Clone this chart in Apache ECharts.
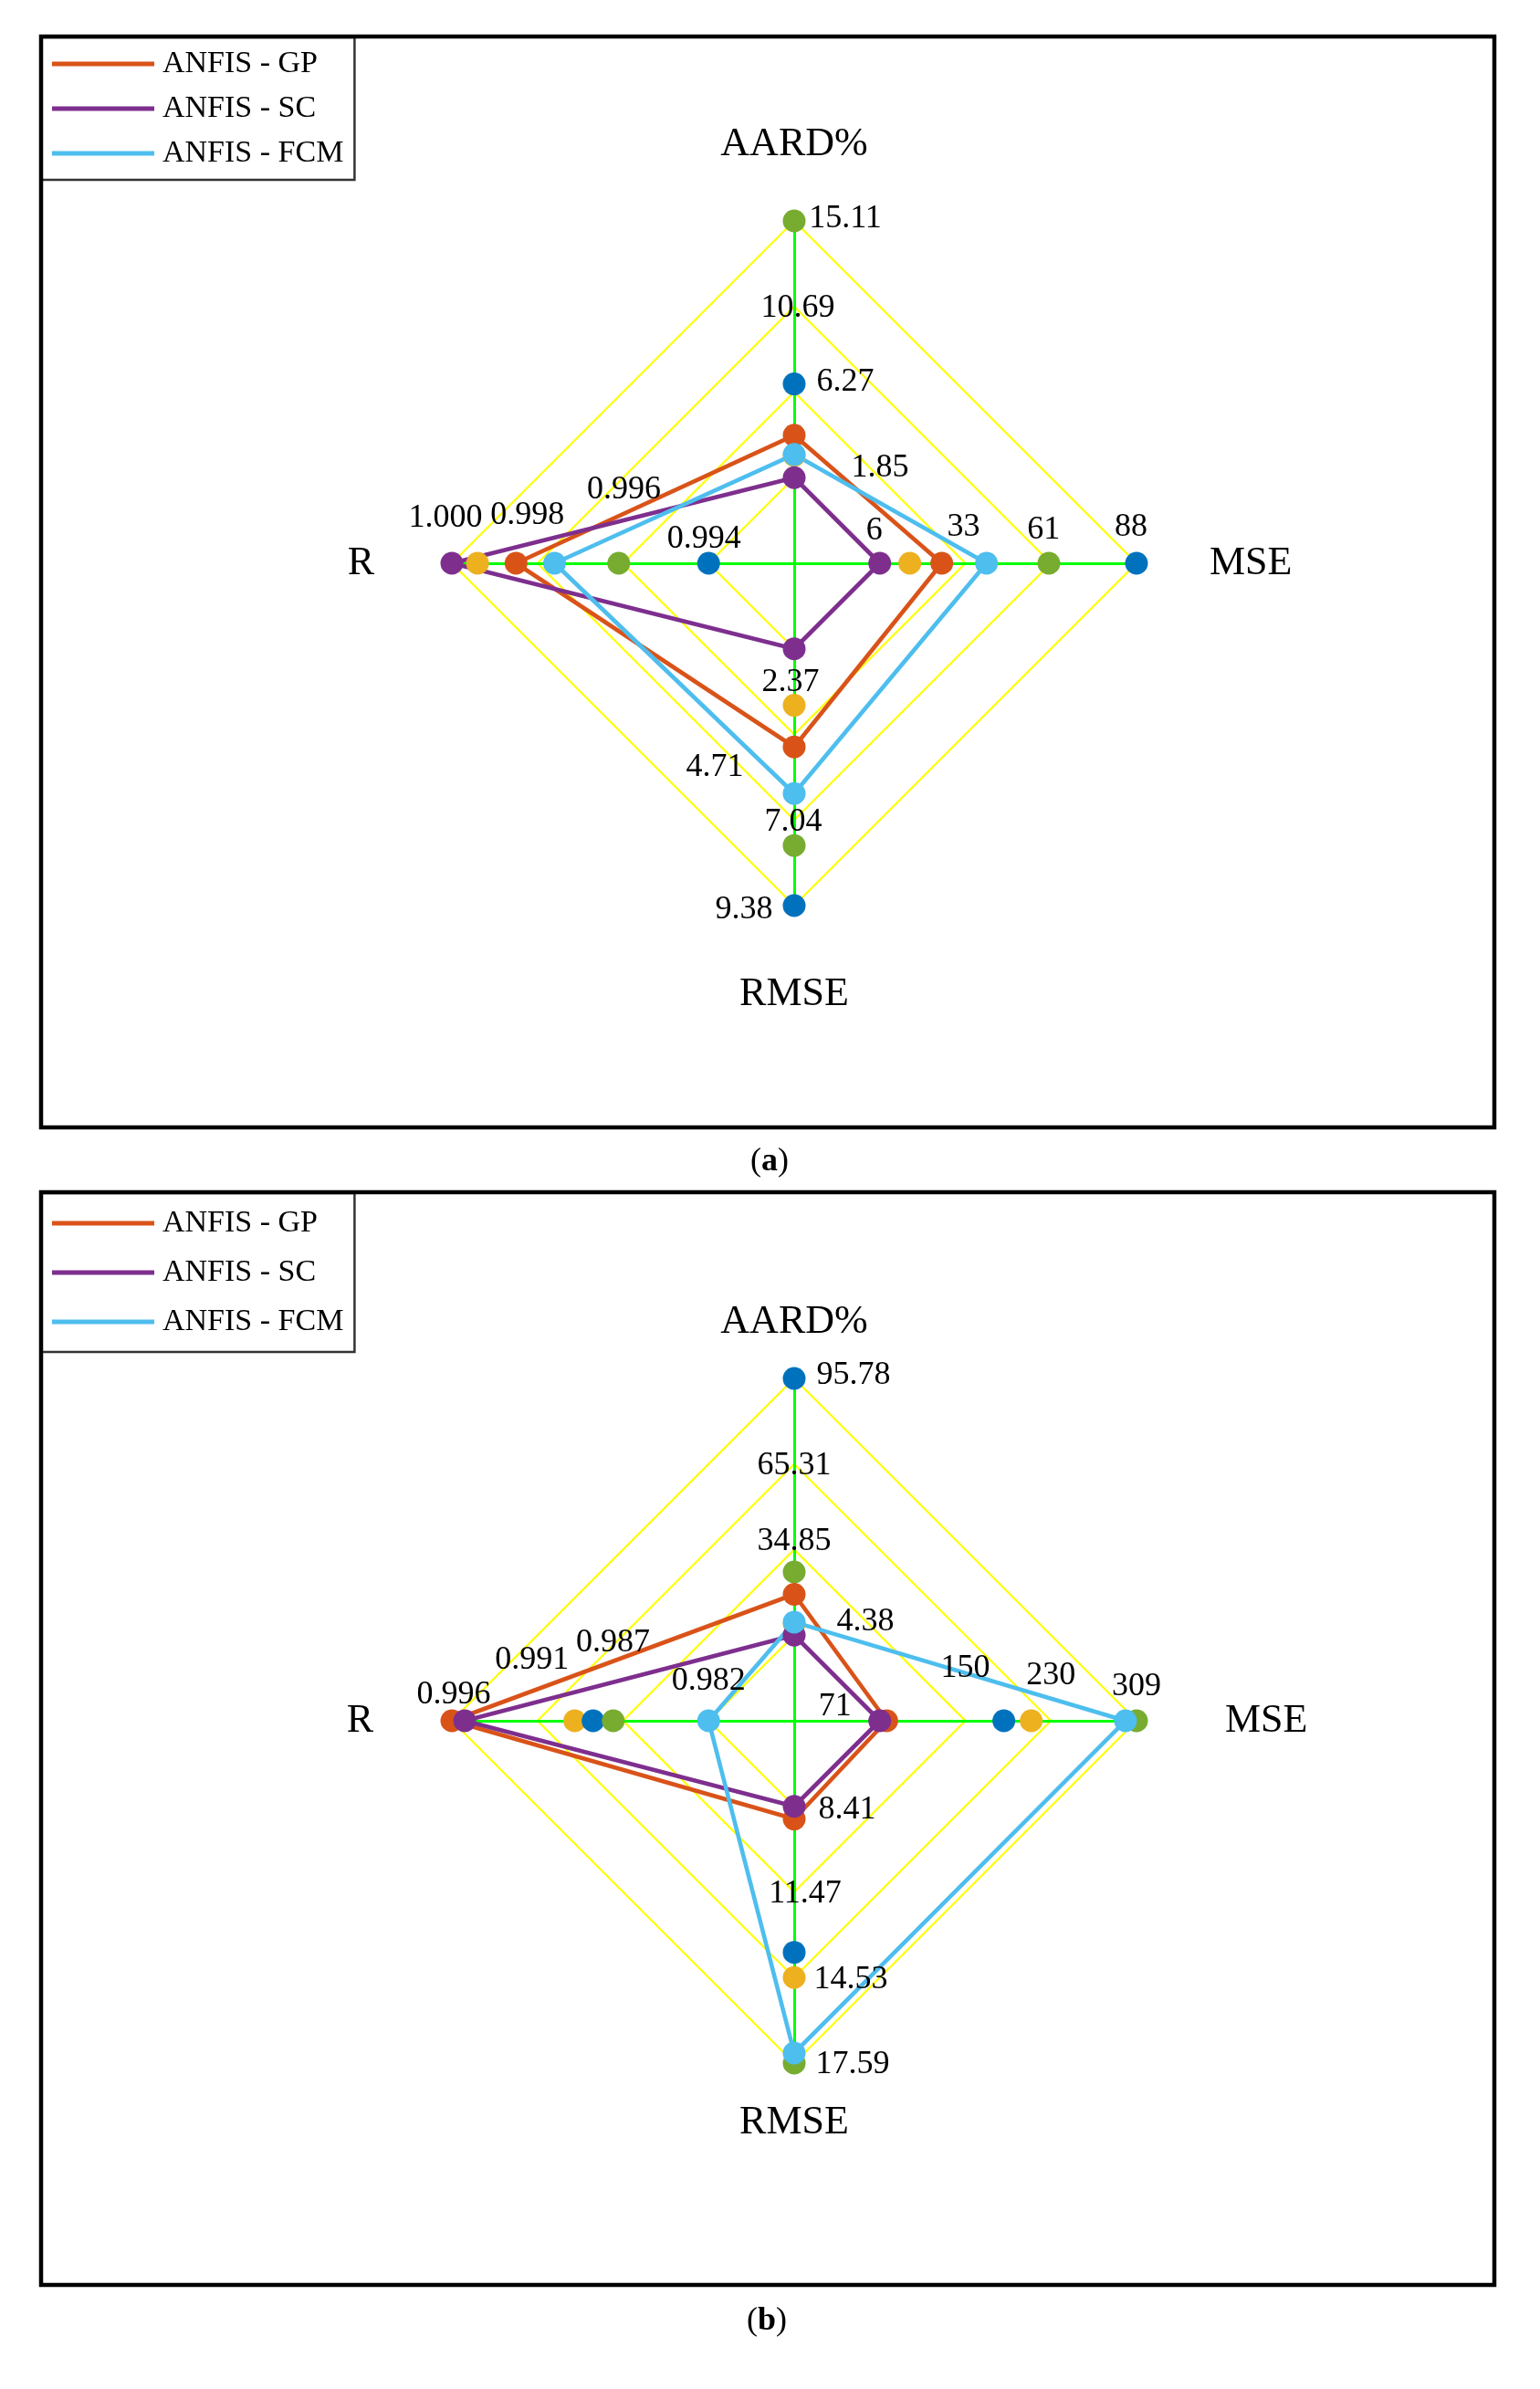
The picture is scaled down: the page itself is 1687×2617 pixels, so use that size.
<!DOCTYPE html>
<html><head><meta charset="utf-8">
<script src="https://cdn.jsdelivr.net/npm/echarts@6/dist/echarts.min.js"></script>
<style>html,body{margin:0;padding:0;background:#fff}#c{width:1687px;height:2617px}</style>
</head><body><div id="c"></div>
<script>
// Indicator order (counter-clockwise from top): AARD%, R, RMSE, MSE
const indicatorNames = ['AARD%', 'R', 'RMSE', 'MSE'];

// ---------- Panel (a) ----------
const ticksA_AARD = ['1.85', '6.27', '10.69', '15.11'];
const ticksA_R    = ['0.994', '0.996', '0.998', '1.000'];
const ticksA_RMSE = ['2.37', '4.71', '7.04', '9.38'];
const ticksA_MSE  = ['6', '33', '61', '88'];
// values: [AARD%, R, RMSE, MSE]
const a_GP     = [4.04, 0.9985, 5.05, 25.8];
const a_SC     = [1.85, 1.000, 2.37, 6];
const a_FCM    = [3.05, 0.9976, 6.32, 40.1];
const a_orange = [3.0, 0.9994, 3.91, 15.6];
const a_blue   = [6.69, 0.994, 9.38, 88];
const a_green  = [15.11, 0.9961, 7.74, 60.0];

// ---------- Panel (b) ----------
const ticksB_AARD = ['4.38', '34.85', '65.31', '95.78'];
const ticksB_R    = ['0.982', '0.987', '0.991', '0.996'];
const ticksB_RMSE = ['8.41', '11.47', '14.53', '17.59'];
const ticksB_MSE  = ['71', '150', '230', '309'];
const b_GP     = [18.92, 0.996, 8.86, 77.4];
const b_SC     = [4.38, 0.9953, 8.41, 71];
const b_FCM    = [9.04, 0.982, 17.23, 298.8];
const b_orange = [8.5, 0.9893, 14.53, 211.4];
const b_blue   = [95.78, 0.9883, 13.63, 186];
const b_green  = [26.89, 0.9872, 17.59, 309];

const legendNames = ['ANFIS - GP', 'ANFIS - SC', 'ANFIS - FCM'];

// ---------- styling (not data) ----------
const FONT = 'Liberation Serif';
const COL = {gp:'#D95319', sc:'#7E2F8E', fcm:'#4DBEEE', orange:'#EDB120', blue:'#0072BD', green:'#77AC30'};
const offA = [
  [[94,-11],[56,-11],[4,2],[56,-2]],      // AARD
  [[-5,-26],[1,-80],[-11,-52],[-7,-49]],  // R
  [[-4,37],[-87,36],[-1,2],[-55,5]],      // RMSE
  [[-6,-35],[-2,-39],[-8,-36],[-6,-39]]   // MSE
];
const offB = [
  [[78,-15],[0,-9],[0,2],[65,-3]],
  [[0,-43],[-11,-85],[-6,-66],[2,-28]],
  [[58,4],[12,2],[62,2],[64,2]],
  [[-49,-15],[0,-57],[0,-49],[0,-37]]
];
// extra padding (towards the centre) of each axis name, beyond the base gap
const namePadA = {aard: 22, r: 45, rmse: 35, mse: 40};
const namePadB = {aard: 0, r: 46, rmse: 3, mse: 57};
const NAME_GAP = 40;

function makeIndicators(tickSets) {
  return tickSets.map((t, i) => {
    const lo = parseFloat(t[0]), hi = parseFloat(t[t.length - 1]);
    const step = (hi - lo) / (t.length - 1);
    return {name: indicatorNames[i], min: lo - step, max: hi};
  });
}
function nameRich(pad) {
  const base = {color: '#000', fontSize: 44, fontFamily: FONT};
  return {
    aard: Object.assign({}, base, {padding: [0, 0, pad.aard, 0]}),
    r: Object.assign({}, base, {padding: [0, pad.r, 0, 0]}),
    rmse: Object.assign({}, base, {padding: [pad.rmse, 0, 0, 0]}),
    mse: Object.assign({}, base, {padding: [0, 0, 0, pad.mse]})
  };
}
const nameKey = {'AARD%': 'aard', 'R': 'r', 'RMSE': 'rmse', 'MSE': 'mse'};
function radarOpt(center, inds, pad) {
  return {
    center: center, radius: 375, startAngle: 90, splitNumber: 4, shape: 'polygon',
    indicator: inds,
    axisName: {color: '#000', fontSize: 44, fontFamily: FONT,
      formatter: (name) => '{' + nameKey[name] + '|' + name + '}',
      rich: nameRich(pad)},
    axisNameGap: NAME_GAP,
    axisLine: {lineStyle: {color: '#00FF00', width: 3}},
    splitLine: {lineStyle: {color: '#FFFF00', width: 2.2}},
    splitArea: {show: false},
    axisTick: {show: false},
    axisLabel: {show: false}
  };
}
function modelSeries(radarIndex, name, values, color, withLine) {
  return {
    type: 'radar', radarIndex: radarIndex, name: name, symbol: 'circle', symbolSize: 25,
    silent: true,
    itemStyle: {color: color, opacity: 1},
    lineStyle: withLine ? {color: color, width: 4.6} : {width: 0, opacity: 0},
    emphasis: {disabled: true},
    data: [{value: values, name: name}]
  };
}
function tickSeries(radarIndex, tickSets, inds, dim, offsets) {
  const t = tickSets[dim];
  const lo = parseFloat(t[0]), hi = parseFloat(t[t.length - 1]);
  const step = (hi - lo) / (t.length - 1);
  const data = t.map((s, k) => ({
    value: inds.map((ind, j) => j === dim ? lo + k * step : ind.min),
    label: {offset: offsets[dim][k]}
  }));
  return {
    type: 'radar', radarIndex: radarIndex, name: 'ticks' + radarIndex + '_' + dim, silent: true,
    symbol: 'circle', symbolSize: 1,
    itemStyle: {color: 'rgba(0,0,0,0)'},
    lineStyle: {width: 0, opacity: 0},
    emphasis: {disabled: true},
    label: {
      show: true, position: 'inside', color: '#000', fontSize: 36, fontFamily: FONT,
      textBorderWidth: 0, textBorderColor: 'transparent',
      formatter: p => p.dimensionIndex === dim ? t[p.dataIndex] : ''
    },
    data: data
  };
}

const tickSetsA = [ticksA_AARD, ticksA_R, ticksA_RMSE, ticksA_MSE];
const tickSetsB = [ticksB_AARD, ticksB_R, ticksB_RMSE, ticksB_MSE];
const indsA = makeIndicators(tickSetsA);
const indsB = makeIndicators(tickSetsB);

function panelSeries(ri, d, tickSets, inds, offs) {
  const s = [
    modelSeries(ri, 'Model 4', d.orange, COL.orange, false),
    modelSeries(ri, 'Model 5', d.blue, COL.blue, false),
    modelSeries(ri, 'Model 6', d.green, COL.green, false),
    modelSeries(ri, 'ANFIS - GP', d.gp, COL.gp, true),
    modelSeries(ri, 'ANFIS - SC', d.sc, COL.sc, true),
    modelSeries(ri, 'ANFIS - FCM', d.fcm, COL.fcm, true)
  ];
  for (let dim = 0; dim < 4; dim++) s.push(tickSeries(ri, tickSets, inds, dim, offs));
  return s;
}

function legendOpt(top, pad, gap) {
  return {
    data: legendNames, orient: 'vertical', left: 45, top: top,
    icon: 'rect', itemWidth: 112, itemHeight: 5, itemGap: gap,
    padding: pad, borderColor: '#333', borderWidth: 2.5, backgroundColor: '#fff',
    selectedMode: false,
    textStyle: {color: '#000', fontSize: 34, fontFamily: FONT, padding: [0, 0, 0, 4]}
  };
}

const chart = echarts.init(document.getElementById('c'), null, {renderer: 'canvas'});
chart.setOption({
  animation: false,
  backgroundColor: '#fff',
  textStyle: {fontFamily: FONT},
  radar: [radarOpt([870, 617], indsA, namePadA), radarOpt([870, 1885], indsB, namePadB)],
  legend: [legendOpt(41, [12, 12, 12, 12], 15), legendOpt(1307, [16, 12, 16, 12], 20)],
  series: [].concat(
    panelSeries(0, {gp: a_GP, sc: a_SC, fcm: a_FCM, orange: a_orange, blue: a_blue, green: a_green}, tickSetsA, indsA, offA),
    panelSeries(1, {gp: b_GP, sc: b_SC, fcm: b_FCM, orange: b_orange, blue: b_blue, green: b_green}, tickSetsB, indsB, offB)
  ),
  graphic: [
    {type: 'rect', z: 100, shape: {x: 45, y: 40, width: 1592, height: 1195}, style: {fill: 'none', stroke: '#000', lineWidth: 4.5}},
    {type: 'rect', z: 100, shape: {x: 45, y: 1306, width: 1592, height: 1197}, style: {fill: 'none', stroke: '#000', lineWidth: 4.5}},
    {type: 'text', z: 100, x: 843, y: 1273, style: {text: '({b|a})', fontSize: 36, fontFamily: FONT, fill: '#000', align: 'center', verticalAlign: 'middle', rich: {b: {fontWeight: 'bold', fontSize: 36, fontFamily: FONT}}}},
    {type: 'text', z: 100, x: 840, y: 2543, style: {text: '({b|b})', fontSize: 36, fontFamily: FONT, fill: '#000', align: 'center', verticalAlign: 'middle', rich: {b: {fontWeight: 'bold', fontSize: 36, fontFamily: FONT}}}}
  ]
});
</script>
</body></html>
